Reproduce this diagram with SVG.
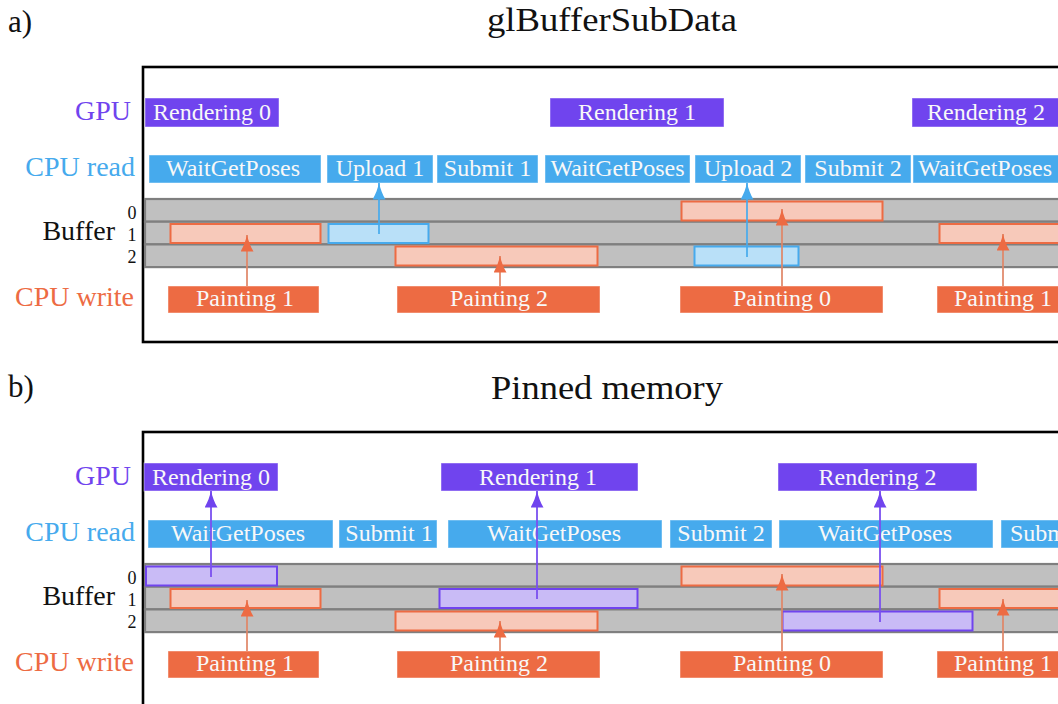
<svg xmlns="http://www.w3.org/2000/svg" width="1058" height="704" viewBox="0 0 1058 704">
  <style>
    text { font-family: "Liberation Serif", "Times New Roman", serif; }
    .title { font-size: 33px; fill: #111; text-anchor: middle; }
    .tag { font-size: 31px; fill: #111; }
    .lab { font-size: 28px; text-anchor: end; }
    .idx { font-size: 18px; fill: #111; text-anchor: middle; }
    .gpu { fill: #7044ee; }
    .cpu-r { fill: #46aaed; }
    .cpu-w { fill: #ed6b43; }
    .box { stroke: #ffffff; stroke-opacity: 0.45; stroke-width: 1; }
    .bt { font-size: 24px; fill: #f8f8f8; text-anchor: middle; }
    .frame { fill: none; stroke: #000; stroke-width: 2.6; }
    .row { fill: #c0c0c0; stroke: #7f7f7f; stroke-width: 2.2; }
    .w-buf { fill: #f7c9ba; stroke: #ed6b43; stroke-width: 2; }
    .u-buf { fill: #b9e0f8; stroke: #46aaed; stroke-width: 2; }
    .g-buf { fill: #c9bbf6; stroke: #7044ee; stroke-width: 2; }
    .a-w { stroke: #e08566; stroke-width: 1.7; fill: none; marker-end: url(#head-w); }
    .a-u { stroke: #46aaed; stroke-width: 1.7; fill: none; marker-end: url(#head-u); }
    .a-g { stroke: #7a50f0; stroke-width: 1.8; fill: none; marker-end: url(#head-g); }
  </style>
  <defs>
    <marker id="head-w" viewBox="0 0 17 13" refX="16.5" refY="6.5" markerWidth="17" markerHeight="13" markerUnits="userSpaceOnUse" orient="auto">
      <path d="M17,6.5 C11,7.6 5,10 0,13 L0,0 C5,3 11,5.4 17,6.5 Z" fill="#ed6b43"/>
    </marker>
    <marker id="head-u" viewBox="0 0 17 13" refX="16.5" refY="6.5" markerWidth="17" markerHeight="13" markerUnits="userSpaceOnUse" orient="auto">
      <path d="M17,6.5 C11,7.6 5,10 0,13 L0,0 C5,3 11,5.4 17,6.5 Z" fill="#46aaed"/>
    </marker>
    <marker id="head-g" viewBox="0 0 17 13" refX="16.5" refY="6.5" markerWidth="17" markerHeight="13" markerUnits="userSpaceOnUse" orient="auto">
      <path d="M17,6.5 C11,7.6 5,10 0,13 L0,0 C5,3 11,5.4 17,6.5 Z" fill="#7044ee"/>
    </marker>
  </defs>

  <rect width="1058" height="704" fill="#ffffff"/>

  <!-- ===================== a) glBufferSubData ===================== -->
  <g id="panel-a">
    <text class="tag" x="8" y="32">a)</text>
    <text class="title" x="612" y="31" textLength="250" lengthAdjust="spacingAndGlyphs">glBufferSubData</text>
    <rect class="frame" x="143" y="67" width="1000" height="275"/>

    <g id="a-labels">
      <text class="lab gpu" x="131" y="120">GPU</text>
      <text class="lab cpu-r" x="135" y="176">CPU read</text>
      <text class="lab" x="115" y="240" fill="#111">Buffer</text>
      <text class="idx" x="132" y="219">0</text>
      <text class="idx" x="132" y="241">1</text>
      <text class="idx" x="132" y="263">2</text>
      <text class="lab cpu-w" x="134" y="306">CPU write</text>
    </g>

    <g id="a-buffer">
      <rect class="row" x="145" y="199" width="1000" height="22.7"/>
      <rect class="row" x="145" y="221.7" width="1000" height="22.7"/>
      <rect class="row" x="145" y="244.4" width="1000" height="22.7"/>
    </g>

    <g id="a-gpu-r0"><rect class="box gpu" x="145" y="98" width="134" height="29"/><text class="bt" x="212" y="120">Rendering 0</text></g>
    <g id="a-gpu-r1"><rect class="box gpu" x="550" y="98" width="174" height="29"/><text class="bt" x="637" y="120">Rendering 1</text></g>
    <g id="a-gpu-r2"><rect class="box gpu" x="912" y="98" width="150" height="29"/><text class="bt" x="986" y="120">Rendering 2</text></g>

    <g id="a-read-wait1"><rect class="box cpu-r" x="149" y="155" width="172" height="28"/><text class="bt" x="233" y="176">WaitGetPoses</text></g>
    <g id="a-read-upload1"><rect class="box cpu-r" x="327" y="155" width="106" height="28"/><text class="bt" x="380" y="176">Upload 1</text></g>
    <g id="a-read-submit1"><rect class="box cpu-r" x="437" y="155" width="101" height="28"/><text class="bt" x="487.5" y="176">Submit 1</text></g>
    <g id="a-read-wait2"><rect class="box cpu-r" x="545" y="155" width="145" height="28"/><text class="bt" x="617.5" y="176">WaitGetPoses</text></g>
    <g id="a-read-upload2"><rect class="box cpu-r" x="695" y="155" width="106" height="28"/><text class="bt" x="748" y="176">Upload 2</text></g>
    <g id="a-read-submit2"><rect class="box cpu-r" x="805" y="155" width="106" height="28"/><text class="bt" x="858" y="176">Submit 2</text></g>
    <g id="a-read-wait3"><rect class="box cpu-r" x="913" y="155" width="147" height="28"/><text class="bt" x="985" y="176">WaitGetPoses</text></g>

    <g id="a-buf-p1"><rect class="w-buf" x="170.5" y="224" width="150" height="19"/></g>
    <g id="a-buf-u1"><rect class="u-buf" x="328.5" y="224" width="100" height="19"/></g>
    <g id="a-buf-p2"><rect class="w-buf" x="395.5" y="246.5" width="202" height="19"/></g>
    <g id="a-buf-p0"><rect class="w-buf" x="681.5" y="201.5" width="201" height="19"/></g>
    <g id="a-buf-u2"><rect class="u-buf" x="694.5" y="246.5" width="104" height="19"/></g>
    <g id="a-buf-p1b"><rect class="w-buf" x="939.5" y="224" width="140" height="19"/></g>

    <g id="a-write-p1"><rect class="box cpu-w" x="168" y="286" width="151" height="27"/><text class="bt" x="245" y="306">Painting 1</text></g>
    <g id="a-write-p2"><rect class="box cpu-w" x="397" y="286" width="203" height="27"/><text class="bt" x="499" y="306">Painting 2</text></g>
    <g id="a-write-p0"><rect class="box cpu-w" x="680" y="286" width="203" height="27"/><text class="bt" x="782" y="306">Painting 0</text></g>
    <g id="a-write-p1b"><rect class="box cpu-w" x="937" y="286" width="140" height="27"/><text class="bt" x="1003" y="306">Painting 1</text></g>

    <g id="a-connectors">
      <line class="a-w" x1="247" y1="286" x2="247" y2="235"/>
      <line class="a-w" x1="500" y1="286" x2="500" y2="256"/>
      <line class="a-w" x1="782" y1="286" x2="782" y2="209"/>
      <line class="a-w" x1="1003" y1="286" x2="1003" y2="234"/>
      <line class="a-u" x1="379" y1="234" x2="379" y2="183"/>
      <line class="a-u" x1="747" y1="257" x2="747" y2="183"/>
    </g>
  </g>

  <!-- ===================== b) Pinned memory ===================== -->
  <g id="panel-b">
    <text class="tag" x="8" y="397">b)</text>
    <text class="title" x="607" y="399" textLength="232" lengthAdjust="spacingAndGlyphs">Pinned memory</text>
    <rect class="frame" x="143" y="432" width="1000" height="400"/>

    <g id="b-labels">
      <text class="lab gpu" x="131" y="485">GPU</text>
      <text class="lab cpu-r" x="135" y="541">CPU read</text>
      <text class="lab" x="115" y="605" fill="#111">Buffer</text>
      <text class="idx" x="132" y="584">0</text>
      <text class="idx" x="132" y="606">1</text>
      <text class="idx" x="132" y="628">2</text>
      <text class="lab cpu-w" x="134" y="671">CPU write</text>
    </g>

    <g id="b-buffer">
      <rect class="row" x="145" y="564" width="1000" height="22.7"/>
      <rect class="row" x="145" y="586.7" width="1000" height="22.7"/>
      <rect class="row" x="145" y="609.4" width="1000" height="22.7"/>
    </g>

    <g id="b-gpu-r0"><rect class="box gpu" x="144" y="463" width="134" height="28"/><text class="bt" x="211" y="485">Rendering 0</text></g>
    <g id="b-gpu-r1"><rect class="box gpu" x="441" y="463" width="197" height="28"/><text class="bt" x="538" y="485">Rendering 1</text></g>
    <g id="b-gpu-r2"><rect class="box gpu" x="778" y="463" width="199" height="28"/><text class="bt" x="877.5" y="485">Rendering 2</text></g>

    <g id="b-read-wait1"><rect class="box cpu-r" x="148" y="520" width="185" height="28"/><text class="bt" x="238" y="541">WaitGetPoses</text></g>
    <g id="b-read-submit1"><rect class="box cpu-r" x="339" y="520" width="98" height="28"/><text class="bt" x="389" y="541">Submit 1</text></g>
    <g id="b-read-wait2"><rect class="box cpu-r" x="448" y="520" width="214" height="28"/><text class="bt" x="554" y="541">WaitGetPoses</text></g>
    <g id="b-read-submit2"><rect class="box cpu-r" x="670" y="520" width="102" height="28"/><text class="bt" x="721" y="541">Submit 2</text></g>
    <g id="b-read-wait3"><rect class="box cpu-r" x="779" y="520" width="214" height="28"/><text class="bt" x="885" y="541">WaitGetPoses</text></g>
    <g id="b-read-submit0"><rect class="box cpu-r" x="1001" y="520" width="100" height="28"/><text class="bt" x="1010" y="541" style="text-anchor:start">Submit 0</text></g>

    <g id="b-buf-r0"><rect class="g-buf" x="146" y="566.5" width="131" height="19"/></g>
    <g id="b-buf-p1"><rect class="w-buf" x="170.5" y="589" width="150" height="19"/></g>
    <g id="b-buf-r1"><rect class="g-buf" x="439.5" y="589" width="198" height="19"/></g>
    <g id="b-buf-p2"><rect class="w-buf" x="395.5" y="611.5" width="202" height="19"/></g>
    <g id="b-buf-p0"><rect class="w-buf" x="681.5" y="566.5" width="201" height="19"/></g>
    <g id="b-buf-r2"><rect class="g-buf" x="782.5" y="611.5" width="190" height="19"/></g>
    <g id="b-buf-p1b"><rect class="w-buf" x="939.5" y="589" width="140" height="19"/></g>

    <g id="b-write-p1"><rect class="box cpu-w" x="168" y="651" width="151" height="27"/><text class="bt" x="245" y="671">Painting 1</text></g>
    <g id="b-write-p2"><rect class="box cpu-w" x="397" y="651" width="203" height="27"/><text class="bt" x="499" y="671">Painting 2</text></g>
    <g id="b-write-p0"><rect class="box cpu-w" x="680" y="651" width="203" height="27"/><text class="bt" x="782" y="671">Painting 0</text></g>
    <g id="b-write-p1b"><rect class="box cpu-w" x="937" y="651" width="140" height="27"/><text class="bt" x="1003" y="671">Painting 1</text></g>

    <g id="b-connectors">
      <line class="a-w" x1="247" y1="651" x2="247" y2="600"/>
      <line class="a-w" x1="500" y1="651" x2="500" y2="621"/>
      <line class="a-w" x1="782" y1="651" x2="782" y2="574"/>
      <line class="a-w" x1="1003" y1="651" x2="1003" y2="599"/>
      <line class="a-g" x1="211" y1="577" x2="211" y2="491"/>
      <line class="a-g" x1="537" y1="599" x2="537" y2="491"/>
      <line class="a-g" x1="880" y1="622" x2="880" y2="491"/>
    </g>
  </g>
</svg>
